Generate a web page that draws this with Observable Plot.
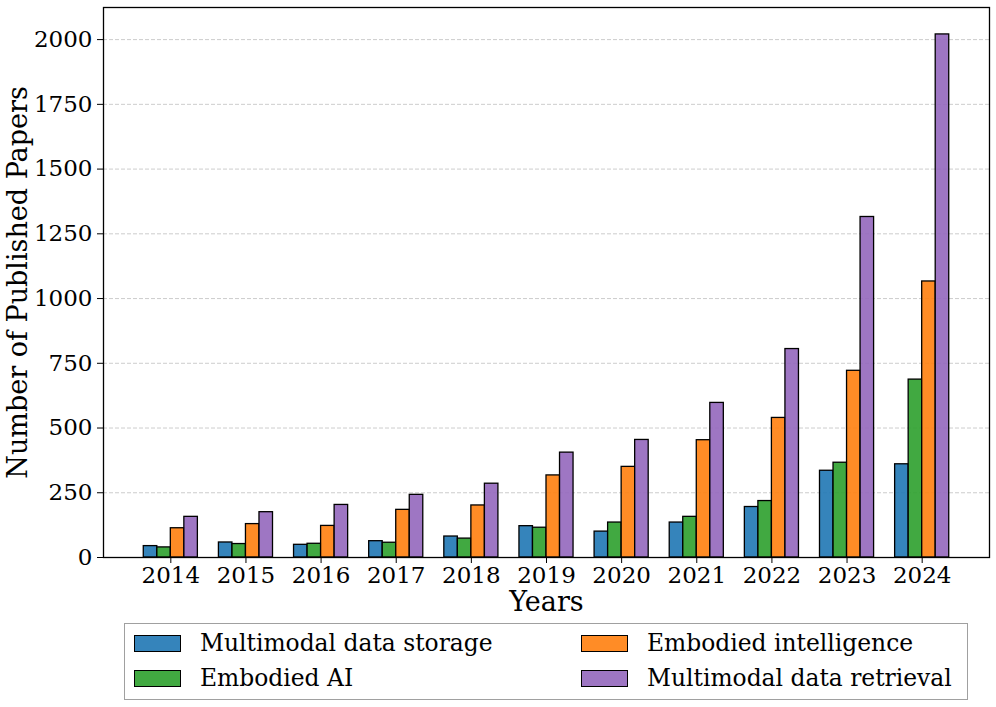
<!DOCTYPE html>
<html>
<head>
<meta charset="utf-8">
<script src="https://cdn.jsdelivr.net/npm/d3@7"></script>
<script src="https://cdn.jsdelivr.net/npm/@observablehq/plot@0.6"></script>
<style>
  html, body { margin: 0; padding: 0; background: white; }
  #wrap { position: relative; width: 996px; height: 707px; font-family: "DejaVu Serif", serif; }
  #legend { position: absolute; left: 124px; top: 623px; width: 842px; height: 75px; border: 1px solid #a0a0a0; box-sizing: content-box; }
  .item { position: absolute; display: flex; align-items: center; font-size: 23.4px; color: #000; white-space: nowrap; }
  .sw { width: 45px; height: 15px; border: 1.3px solid #000; margin-right: 19px; }
</style>
</head>
<body>
<div id="wrap"><div id="chart"></div><div id="legend"></div></div>
<script>
const years = ["2014","2015","2016","2017","2018","2019","2020","2021","2022","2023","2024"];
const seriesNames = ["Multimodal data storage","Embodied AI","Embodied intelligence","Multimodal data retrieval"];
const seriesColors = ["#1f77b4","#2ca02c","#ff7f0e","#9467bd"];
const storage      = [44, 58, 49, 63, 81, 121, 100, 135, 195, 335, 360];
const embodiedAI   = [39, 52, 53, 57, 73, 115, 135, 157, 218, 366, 687];
const intelligence = [113, 129, 122, 184, 201, 317, 350, 453, 539, 721, 1066];
const retrieval    = [157, 175, 203, 242, 285, 405, 454, 597, 805, 1315, 2020];
const yTicks = [0, 250, 500, 750, 1000, 1250, 1500, 1750, 2000];

const seriesValues = [storage, embodiedAI, intelligence, retrieval];
const barW = 0.18;
const offsets = [-1.5, -0.5, 0.5, 1.5].map(k => k * barW);
const rows = [];
seriesValues.forEach((vals, s) => {
  vals.forEach((v, i) => {
    rows.push({year: years[i], idx: i, series: seriesNames[s], value: v,
      x1: i + offsets[s] - barW / 2, x2: i + offsets[s] + barW / 2});
  });
});

const chart = Plot.plot({
  width: 996,
  height: 618,
  marginLeft: 103,
  marginRight: 7,
  marginTop: 7,
  marginBottom: 61,
  style: {fontFamily: "DejaVu Serif", fontSize: "23px", background: "white", color: "black"},
  x: {domain: [-0.896, 10.896]},
  y: {domain: [0, 2124]},
  color: {domain: seriesNames, range: seriesColors},
  marks: [
    Plot.gridY(yTicks, {stroke: "#b0b0b0", strokeOpacity: 0.7, strokeDasharray: "4,2", strokeWidth: 0.9}),
    Plot.rectY(rows, {x1: "x1", x2: "x2", y1: 0, y2: "value", fill: "series", fillOpacity: 0.9, stroke: "black", strokeWidth: 1.3}),
    Plot.axisY(yTicks, {tickSize: 6, tickPadding: 5, fontSize: 23, label: null, tickFormat: d => String(d), stroke: "black", strokeWidth: 1}),
    Plot.axisX(d3.range(years.length), {tickSize: 6, tickPadding: 3, fontSize: 23, label: null, tickFormat: i => years[i], stroke: "black", strokeWidth: 1}),
    Plot.frame({stroke: "black", strokeWidth: 1.3}),
    Plot.text(["Years"], {frameAnchor: "bottom", lineAnchor: "middle", dy: 45, fontSize: 27, fill: "black"}),
    Plot.text(["Number of Published Papers"], {frameAnchor: "left", textAnchor: "middle", lineAnchor: "middle", dx: -85, rotate: -90, fontSize: 27, fill: "black"})
  ]
});
document.getElementById("chart").appendChild(chart);

const legend = document.getElementById("legend");
const pos = [{col:0,row:0},{col:0,row:1},{col:1,row:0},{col:1,row:1}];
seriesNames.forEach((name, s) => {
  const p = pos[s];
  const item = document.createElement("div");
  item.className = "item";
  item.style.left = (p.col === 0 ? 9 : 456) + "px";
  item.style.top = (p.row === 0 ? 4 : 39) + "px";
  item.style.height = "30px";
  const sw = document.createElement("div");
  sw.className = "sw";
  sw.style.background = d3.color(seriesColors[s]).copy({opacity: 0.9}).toString();
  const tx = document.createElement("span");
  tx.textContent = name;
  item.appendChild(sw); item.appendChild(tx);
  legend.appendChild(item);
});
</script>
</body>
</html>
